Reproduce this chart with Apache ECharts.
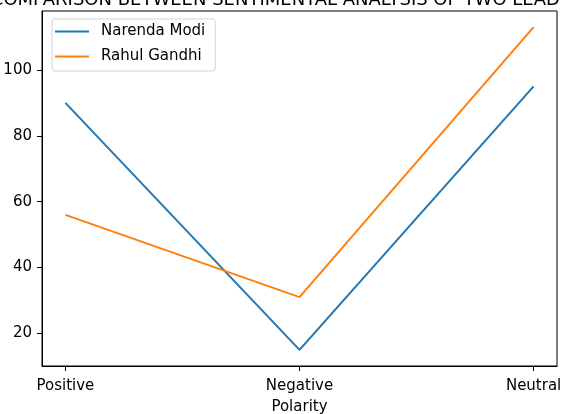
<!DOCTYPE html>
<html>
<head>
<meta charset="utf-8">
<script src="https://cdn.jsdelivr.net/npm/echarts@6/dist/echarts.min.js"></script>
<style>html,body{margin:0;padding:0;background:#fff}#c{width:561px;height:414px}</style>
</head>
<body>
<div id="c"></div>
<script>
const categories = ['Positive', 'Negative', 'Neutral'];
const modi = [90, 15, 95];
const gandhi = [56, 31, 113];
const yTicks = [20, 40, 60, 80, 100];
const seriesNames = ['Narenda Modi', 'Rahul Gandhi'];
const titleText = 'COMPARISON BETWEEN SENTIMENTAL ANALYSIS OF TWO LEADERS';

const font = 'DejaVu Sans';
const chart = echarts.init(document.getElementById('c'), null, {renderer: 'canvas'});
const toPairs = arr => arr.map((v, i) => [i, v]);
chart.setOption({
  animation: false,
  backgroundColor: '#fff',
  title: {
    text: titleText, left: 293, top: -9, textAlign: 'center', padding: 0,
    textStyle: {fontFamily: font, fontSize: 18, lineHeight: 18, fontWeight: 'normal', color: '#000'}
  },
  grid: {left: 42, right: 4, top: 11, bottom: 48, show: true, borderColor: '#000', borderWidth: 1, backgroundColor: 'transparent', containLabel: false, outerBoundsMode: 'none'},
  legend: {
    left: 52, top: 19, orient: 'vertical', icon: 'rect', itemWidth: 34, itemHeight: 2, itemGap: 10,
    padding: [5, 10, 7, 3], backgroundColor: 'rgba(255,255,255,0.8)', borderColor: '#d4d4d4', borderWidth: 1, borderRadius: 3,
    textStyle: {fontFamily: font, fontSize: 15, color: '#000', padding: [0, 0, 0, 7]},
    data: seriesNames
  },
  xAxis: {
    type: 'value', min: -0.1, max: 2.1, name: 'Polarity', nameLocation: 'middle', nameGap: 34,
    nameTextStyle: {fontFamily: font, fontSize: 15, color: '#000'},
    axisLine: {show: true, onZero: false, lineStyle: {color: '#000', width: 1}},
    axisTick: {show: true, inside: false, length: 5, lineStyle: {color: '#000'}, customValues: [0, 1, 2]},
    axisLabel: {fontFamily: font, fontSize: 15, color: '#000', margin: 13, customValues: [0, 1, 2], formatter: v => categories[Math.round(v)]},
    splitLine: {show: false}
  },
  yAxis: {
    type: 'value', min: 10.1, max: 117.9,
    axisLine: {show: true, onZero: false, lineStyle: {color: '#000', width: 1}},
    axisTick: {show: true, inside: false, length: 5, lineStyle: {color: '#000'}, customValues: yTicks},
    axisLabel: {fontFamily: font, fontSize: 15, color: '#000', margin: 10, customValues: yTicks},
    splitLine: {show: false}
  },
  series: [
    {name: seriesNames[0], type: 'line', data: toPairs(modi), symbol: 'none', lineStyle: {color: '#1f77b4', width: 2}, itemStyle: {color: '#1f77b4'}},
    {name: seriesNames[1], type: 'line', data: toPairs(gandhi), symbol: 'none', lineStyle: {color: '#ff7f0e', width: 2}, itemStyle: {color: '#ff7f0e'}}
  ]
});
</script>
</body>
</html>
